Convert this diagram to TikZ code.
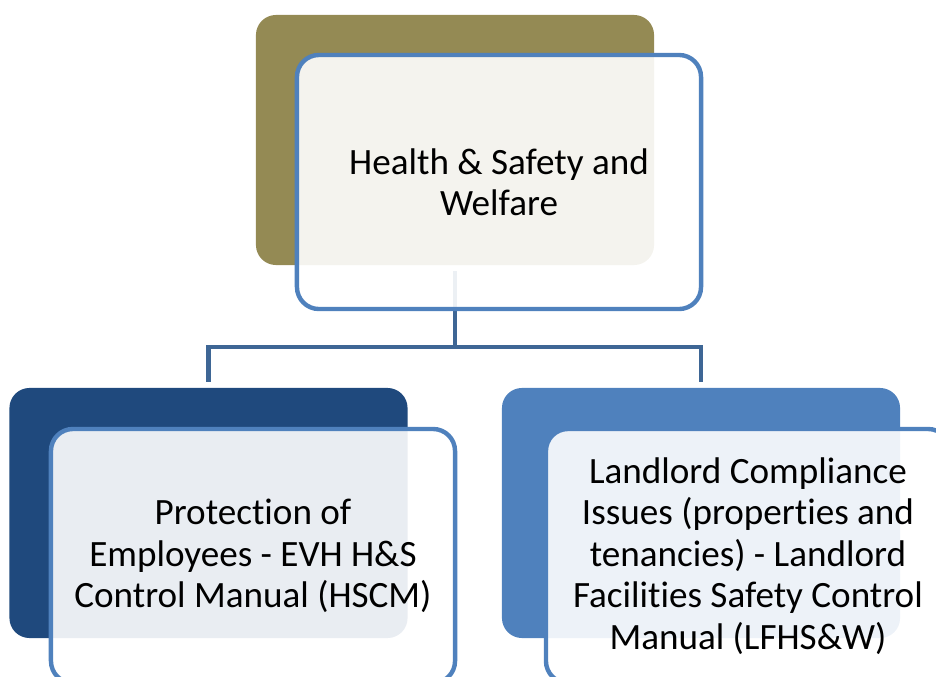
\documentclass[tikz,border=0pt]{standalone}
\usepackage{fontspec}
\setmainfont[Ligatures=NoCommon]{Carlito}
\usetikzlibrary{calc}
\definecolor{olivebox}{HTML}{948A54}
\definecolor{navybox}{HTML}{1F497D}
\definecolor{bluebox}{HTML}{4F81BD}
\definecolor{linkblue}{HTML}{3E6695}

\begin{document}
\begin{tikzpicture}[x=0.025cm, y=-0.025cm,
    back/.style={rectangle, rounded corners=0.5cm, minimum width=9.95cm, minimum height=6.25cm, inner sep=0pt},
    front/.style={rectangle, rounded corners=0.55cm, draw=bluebox, line width=0.11cm,
      fill=white, fill opacity=0.9, text opacity=1, minimum width=10.1cm, minimum height=6.35cm,
      inner sep=0pt, align=center, font=\fontsize{26.4}{29.5}\selectfont},
    link/.style={draw=linkblue, line width=0.12cm, shorten <=0.15cm, shorten >=0.13cm}]
          \clip (0,0) rectangle (936,677);
          % Back boxes
          \node[back, fill=olivebox] (topback) at (455,140) {};
          \node[back, fill=navybox] (leftback) at (208.5,513) {};
          \node[back, fill=bluebox] (rightback) at (701,513) {};
          % Connectors
          \coordinate (bus) at (455,347);
          \draw[link] (topback.south) -- (bus) -| (leftback.north);
          \draw[link, shorten <=0pt] (bus) -| (rightback.north);
          % Front boxes
          \node[front] (top) at (499,182) {Health \& Safety and\\Welfare};
          \node[front] (left) at (253,556) {Protection of\\Employees - EVH H\&S\\Control Manual (HSCM)};
          \node[front] (right) at (748,556) {Landlord Compliance\\Issues (properties and\\tenancies) - Landlord\\Facilities Safety Control\\Manual (LFHS\&W)};
        \end{tikzpicture}
\end{document}
